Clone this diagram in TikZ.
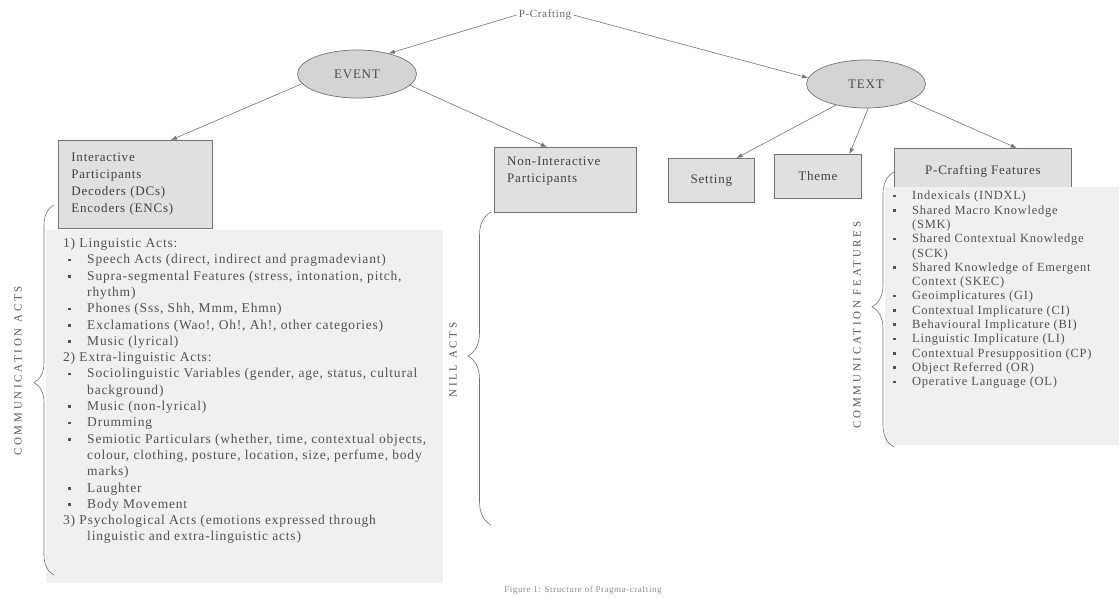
\documentclass[tikz,border=0pt]{standalone}
\usepackage{fontspec}
\setmainfont{Liberation Serif}
\newfontfamily\scanfont[LetterSpace=6]{Liberation Serif}
\newfontfamily\widecaps[LetterSpace=25]{Liberation Serif}
\usetikzlibrary{calc,arrows.meta,shapes.geometric,decorations.pathreplacing}
\def\bitem{\hspace*{5pt}\makebox[19pt][l]{\raisebox{2.5pt}{\rule{2.6pt}{2.6pt}}}}
\def\bmore{\hspace*{24pt}}
\def\ritem{\makebox[19pt][l]{\raisebox{2.5pt}{\rule{2.6pt}{2.6pt}}}}
\def\rmore{\hspace*{19pt}}
\tikzset{
	box/.style={draw=black!55, fill=black!12, line width=0.8pt, inner sep=0pt, text=black!75, font=\scanfont\fontsize{13}{17}\selectfont},
	boxtext/.style={inner sep=0pt, align=left, text=black!75, font=\scanfont\fontsize{13}{17}\selectfont},
	oval/.style={ellipse, draw=black!55, fill=black!17, line width=0.7pt, minimum width=119pt, minimum height=48pt, inner sep=0pt, text=black!70, font=\scanfont\fontsize{13}{14}\selectfont},
	arr/.style={draw=black!55, line width=0.6pt, -{Latex[length=6pt,width=4.5pt]}},
	listbg/.style={fill=black!6},
	listtext/.style={inner sep=0pt, align=left, text=black!68},
	sidetext/.style={inner sep=0pt, text=black!68, font=\widecaps\fontsize{11}{12}\selectfont},
	bracestyle/.style={decorate, draw=black!55, line width=0.6pt}
}

\begin{document}
\begin{tikzpicture}[x=1pt, y=-1pt]
	%%%%% START %%%%%
	\useasboundingbox (0,0) rectangle (1119,599);
	
	\node[inner sep=2pt, text=black!60, font=\scanfont\fontsize{11}{12}\selectfont] (pc) at (545,15) {P-Crafting};
	
	\node[oval] (event) at (357,74) {EVENT};
	\node[oval] (text) at (866,84) {TEXT};
	
	\node[box, anchor=north west, text width=128pt, inner xsep=13pt, minimum height=88pt, align=left] (inter) at (58,140) {Interactive\\Participants\\Decoders (DCs)\\Encoders (ENCs)};
	
	\node[box, anchor=north west, minimum width=142pt, minimum height=65pt] (nonint) at (494,147) {};
	\node[boxtext, anchor=north west] (nonintlabel) at ($(nonint.north west)+(13,10)$) {Non-Interactive\\Participants};
	
	\node[box, anchor=north west, minimum width=86pt, minimum height=44pt] (setting) at (668,158) {Setting};
	\node[box, anchor=north west, minimum width=87pt, minimum height=44pt] (theme) at (774,154) {Theme};
	\node[box, anchor=north west, minimum width=177pt, minimum height=46pt] (pcf) at (894,148) {P-Crafting Features};
	
	% lists
	\fill[listbg] (46,230) rectangle (443,583);
	\fill[listbg] (885,187) rectangle (1119,445);
	
	\node[listtext, anchor=north west, font=\scanfont\fontsize{13.5}{16.3}\selectfont] (actslist) at (63,238) {1) Linguistic Acts:\\
		\bitem Speech Acts (direct, indirect and pragmadeviant)\\
		\bitem Supra-segmental Features (stress, intonation, pitch,\\
		\bmore rhythm)\\
		\bitem Phones (Sss, Shh, Mmm, Ehmn)\\
		\bitem Exclamations (Wao!, Oh!, Ah!, other categories)\\
		\bitem Music (lyrical)\\
		2) Extra-linguistic Acts:\\
		\bitem Sociolinguistic Variables (gender, age, status, cultural\\
		\bmore background)\\
		\bitem Music (non-lyrical)\\
		\bitem Drumming\\
		\bitem Semiotic Particulars (whether, time, contextual objects,\\
		\bmore colour, clothing, posture, location, size, perfume, body\\
		\bmore marks)\\
		\bitem Laughter\\
		\bitem Body Movement\\
		3) Psychological Acts (emotions expressed through\\
		\bmore linguistic and extra-linguistic acts)};
	
	\node[listtext, anchor=north west, font=\scanfont\fontsize{12.5}{14.3}\selectfont] (featlist) at (893,191) {\ritem Indexicals (INDXL)\\
		\ritem Shared Macro Knowledge\\
		\rmore (SMK)\\
		\ritem Shared Contextual Knowledge\\
		\rmore (SCK)\\
		\ritem Shared Knowledge of Emergent\\
		\rmore Context (SKEC)\\
		\ritem Geoimplicatures (GI)\\
		\ritem Contextual Implicature (CI)\\
		\ritem Behavioural Implicature (BI)\\
		\ritem Linguistic Implicature (LI)\\
		\ritem Contextual Presupposition (CP)\\
		\ritem Object Referred (OR)\\
		\ritem Operative Language (OL)};
	
	% braces
	\draw[bracestyle, decoration={brace, amplitude=20pt, aspect=0.52}] (54,575) -- (54,205);
	\draw[bracestyle, decoration={brace, amplitude=23pt, aspect=0.54}] (491,525) -- (491,212);
	\draw[bracestyle, decoration={brace, amplitude=22pt, aspect=0.51}] (894,447) -- (894,172);
	
	\node[sidetext, rotate=90] (commacts) at (18,371) {COMMUNICATION ACTS};
	\node[sidetext, rotate=90] (nillacts) at (453,360) {NILL ACTS};
	\node[sidetext, rotate=90] (commfeat) at (857,325) {COMMUNICATION FEATURES};
	
	% arrows
	\draw[arr] (pc.west) -- (event.33);
	\draw[arr] (pc.east) -- (text.174);
	\draw[arr] (event.190) -- ($(inter.north west)!0.73!(inter.north east)$);
	\draw[arr] (event.-12) -- ($(nonint.north west)!0.37!(nonint.north east)$);
	\draw[arr] (text.215) -- ($(setting.north west)!0.79!(setting.north east)$);
	\draw[arr] (text.275) -- ($(theme.north west)!0.86!(theme.north east)$);
	\draw[arr] (text.339) -- ($(pcf.north west)!0.69!(pcf.north east)$);
	
	\node[inner sep=0pt, text=black!45, font=\scanfont\fontsize{9}{10}\selectfont] (caption) at (583,590) {Figure 1: Structure of Pragma-crafting};
	
	%%%%% END %%%%%
\end{tikzpicture}
\end{document}
